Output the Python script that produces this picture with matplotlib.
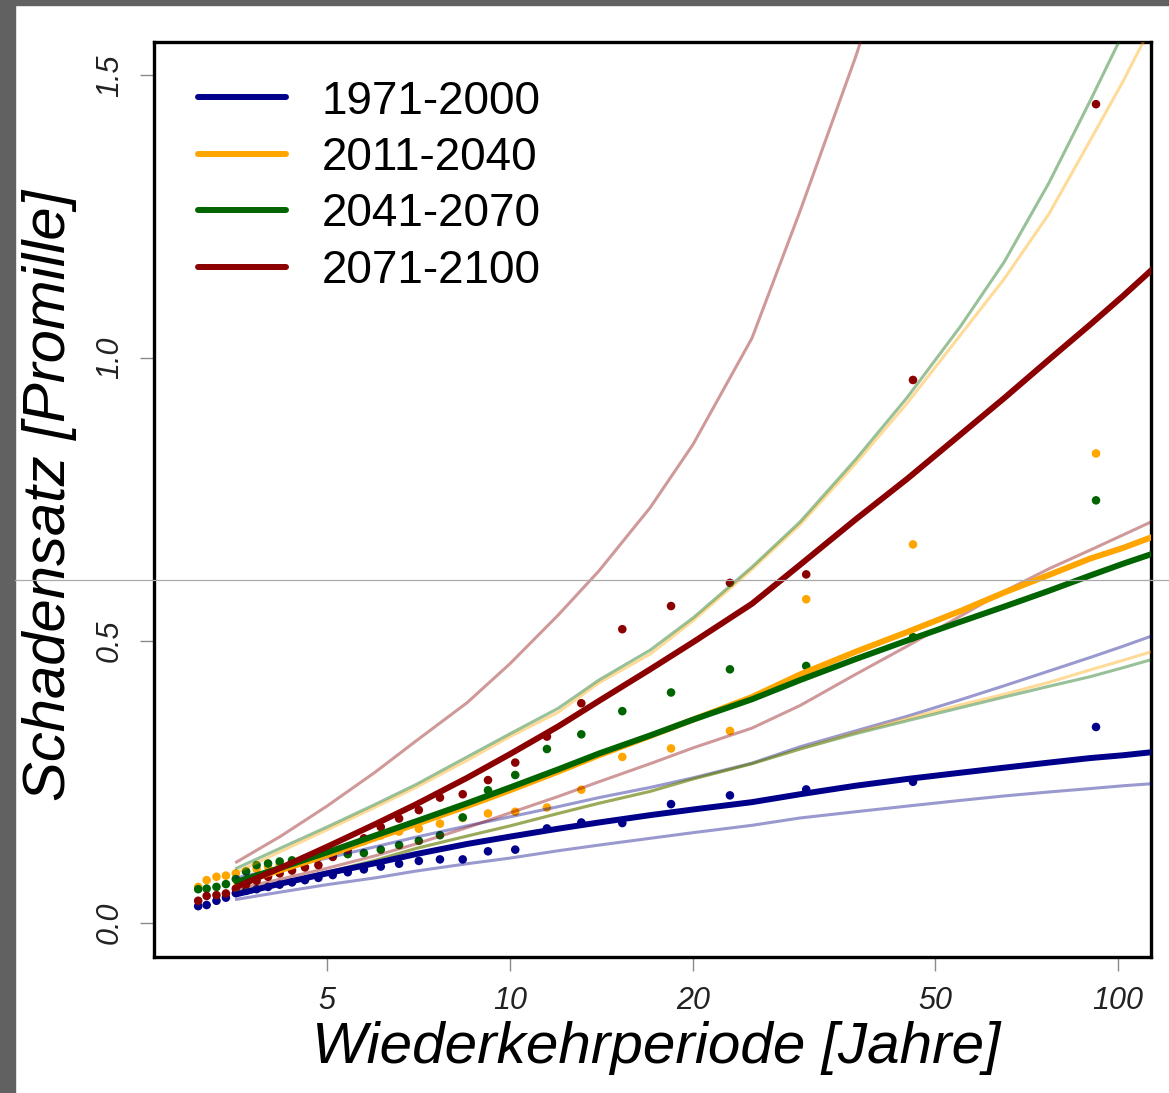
import numpy as np
import matplotlib
matplotlib.use('Agg')
import matplotlib.pyplot as plt
from matplotlib.lines import Line2D
from matplotlib.patches import Rectangle
from matplotlib.ticker import NullLocator

# empirical return periods of the ranked damage rates (rank 1..30)
periods = [92, 46, 30.7, 23, 18.4, 15.3, 13.1, 11.5, 10.2, 9.2, 8.36, 7.67, 7.08,
           6.57, 6.13, 5.75, 5.41, 5.11, 4.84, 4.6, 4.38, 4.18, 4.0, 3.83, 3.68,
           3.54, 3.41, 3.29, 3.17, 3.07]

pts_1971 = [0.347, 0.250, 0.2365, 0.226, 0.2105, 0.177, 0.178, 0.1675, 0.130, 0.127,
            0.1127, 0.1127, 0.110, 0.105, 0.100, 0.095, 0.090, 0.085, 0.080, 0.076,
            0.072, 0.068, 0.064, 0.060, 0.057, 0.053, 0.045, 0.0395, 0.032, 0.030]
pts_2011 = [0.831, 0.670, 0.573, 0.340, 0.309, 0.294, 0.236, 0.2045, 0.197, 0.194,
            0.186, 0.176, 0.167, 0.162, 0.155, 0.145, 0.135, 0.125, 0.118, 0.112,
            0.108, 0.104, 0.100, 0.096, 0.092, 0.088, 0.084, 0.082, 0.076, 0.064]
pts_2041 = [0.748, 0.506, 0.455, 0.449, 0.408, 0.375, 0.334, 0.308, 0.262, 0.235,
            0.187, 0.1555, 0.1456, 0.138, 0.130, 0.124, 0.122, 0.119, 0.117, 0.114,
            0.111, 0.109, 0.1055, 0.1026, 0.091, 0.078, 0.069, 0.064, 0.061, 0.060]
pts_2071 = [1.449, 0.961, 0.617, 0.602, 0.561, 0.520, 0.389, 0.33, 0.284, 0.253,
            0.228, 0.222, 0.200, 0.185, 0.170, 0.150, 0.130, 0.117, 0.1026, 0.0985,
            0.093, 0.088, 0.082, 0.075, 0.068, 0.061, 0.0524, 0.0495, 0.048, 0.0395]

# fitted curves (estimate, lower, upper) read on a return period grid
fit_periods = [3.55, 4.2, 5, 6, 7, 8.5, 10, 12, 14, 17, 20, 25, 30, 37, 45, 55, 65,
               77, 90, 102, 115]

fit_1971 = [0.051, 0.070, 0.088, 0.106, 0.122, 0.140, 0.153, 0.167, 0.178, 0.191, 0.201,
            0.214, 0.228, 0.243, 0.255, 0.266, 0.275, 0.284, 0.292, 0.297, 0.303]
low_1971 = [0.042, 0.055, 0.068, 0.080, 0.092, 0.105, 0.115, 0.128, 0.138, 0.150, 0.160,
            0.173, 0.186, 0.197, 0.207, 0.217, 0.225, 0.232, 0.238, 0.243, 0.247]
up_1971 = [0.080, 0.097, 0.115, 0.135, 0.152, 0.172, 0.188, 0.206, 0.222, 0.240, 0.257,
           0.283, 0.312, 0.340, 0.366, 0.395, 0.420, 0.446, 0.470, 0.490, 0.510]

fit_2011 = [0.070, 0.094, 0.120, 0.150, 0.175, 0.207, 0.235, 0.268, 0.297, 0.331, 0.360,
            0.400, 0.440, 0.480, 0.515, 0.552, 0.585, 0.616, 0.645, 0.664, 0.685]
low_2011 = [0.055, 0.072, 0.090, 0.111, 0.132, 0.154, 0.172, 0.194, 0.212, 0.233, 0.255,
            0.282, 0.308, 0.337, 0.362, 0.386, 0.405, 0.426, 0.448, 0.465, 0.482]
up_2011 = [0.090, 0.127, 0.165, 0.205, 0.240, 0.288, 0.330, 0.373, 0.425, 0.476, 0.535,
           0.626, 0.705, 0.813, 0.920, 1.040, 1.140, 1.255, 1.385, 1.490, 1.600]

fit_2041 = [0.073, 0.098, 0.125, 0.155, 0.180, 0.212, 0.240, 0.272, 0.300, 0.332, 0.360,
            0.396, 0.430, 0.467, 0.500, 0.533, 0.560, 0.588, 0.615, 0.636, 0.655]
low_2041 = [0.055, 0.072, 0.090, 0.111, 0.132, 0.154, 0.172, 0.194, 0.212, 0.233, 0.255,
            0.282, 0.308, 0.335, 0.358, 0.381, 0.400, 0.419, 0.436, 0.452, 0.468]
up_2041 = [0.097, 0.133, 0.170, 0.210, 0.245, 0.294, 0.335, 0.380, 0.430, 0.483, 0.540,
           0.630, 0.710, 0.820, 0.930, 1.055, 1.170, 1.310, 1.455, 1.575, 1.700]

fit_2071 = [0.064, 0.098, 0.135, 0.175, 0.210, 0.257, 0.299, 0.348, 0.393, 0.449, 0.497,
            0.565, 0.634, 0.714, 0.786, 0.864, 0.929, 0.997, 1.059, 1.110, 1.161]
low_2071 = [0.060, 0.078, 0.097, 0.119, 0.140, 0.169, 0.195, 0.224, 0.250, 0.282, 0.310,
            0.345, 0.385, 0.440, 0.490, 0.543, 0.587, 0.627, 0.660, 0.687, 0.713]
up_2071 = [0.108, 0.154, 0.207, 0.267, 0.322, 0.390, 0.459, 0.545, 0.623, 0.735, 0.847,
           1.035, 1.260, 1.532, 1.810, 2.120, 2.400, 2.700, 3.000, 3.250, 3.500]

labels = ['1971-2000', '2011-2040', '2041-2070', '2071-2100']
colors = ['#00008B', '#FFA500', '#006400', '#8B0000']

points = [pts_1971, pts_2011, pts_2041, pts_2071]
fits = [fit_1971, fit_2011, fit_2041, fit_2071]
lows = [low_1971, low_2011, low_2041, low_2071]
ups = [up_1971, up_2011, up_2041, up_2071]

W, H = 1169, 1093
fig = plt.figure(figsize=(W / 100, H / 100), dpi=100)
ax = fig.add_axes([154 / W, 1 - 957 / H, (1151 - 154) / W, (957 - 42) / H])

for pts, col in zip(points, colors):
    ax.scatter(periods, pts, s=38, color=col, edgecolors='none', zorder=2)

for lo, up, col in zip(lows, ups, colors):
    ax.plot(fit_periods, lo, color=col, lw=2.2, alpha=0.4, zorder=3)
    ax.plot(fit_periods, up, color=col, lw=2.2, alpha=0.4, zorder=3)

for fit, col, lab in zip(fits, colors, labels):
    ax.plot(fit_periods, fit, color=col, lw=4.3, label=lab, zorder=4,
            solid_capstyle='round')

ax.set_xscale('log')
ax.set_xlim(2.597, 113.3)
ax.set_ylim(-0.060, 1.559)

ax.set_xticks([5, 10, 20, 50, 100])
ax.set_xticklabels(['5', '10', '20', '50', '100'])
ax.xaxis.set_minor_locator(NullLocator())
ax.set_yticks([0.0, 0.5, 1.0, 1.5])
ax.set_yticklabels(['0.0', '0.5', '1.0', '1.5'], rotation=90, va='center')

for sp in ax.spines.values():
    sp.set_linewidth(2.4)
    sp.set_color('black')

ax.tick_params(axis='both', which='major', direction='out', length=10, width=1.0,
               color='#8a8a8a', labelsize=22, pad=11)
for t in ax.get_xticklabels() + ax.get_yticklabels():
    t.set_fontfamily('Liberation Sans')
    t.set_fontstyle('italic')
    t.set_color('#222222')

fig.text(656 / W, 1 - 1048 / H, 'Wiederkehrperiode [Jahre]', ha='center', va='center',
         fontsize=42, family='Liberation Sans', style='italic')
fig.text(50 / W, 1 - 495 / H, 'Schadensatz [Promille]', ha='center', va='center',
         rotation=90, fontsize=43, family='Liberation Sans', style='italic')

leg = ax.legend(loc='upper left', bbox_to_anchor=(0.0, 1.0 + 6 / 915), frameon=False,
                handlelength=1.92, handletextpad=0.78, labelspacing=0.27,
                borderaxespad=0.55, prop={'family': 'Liberation Sans', 'size': 33})

# dark frame of the screenshot and a stray horizontal rule
fig.patches.append(Rectangle((0, 0), 15 / W, 1, transform=fig.transFigure,
                             color='#616161', zorder=10))
fig.patches.append(Rectangle((0, 1 - 5 / H), 1, 5 / H, transform=fig.transFigure,
                             color='#616161', zorder=10))
fig.lines.append(Line2D([15 / W, 1], [1 - 580 / H, 1 - 580 / H], transform=fig.transFigure,
                        color='#aaaaaa', lw=0.9, zorder=11))

fig.savefig('out.png', dpi=100)
